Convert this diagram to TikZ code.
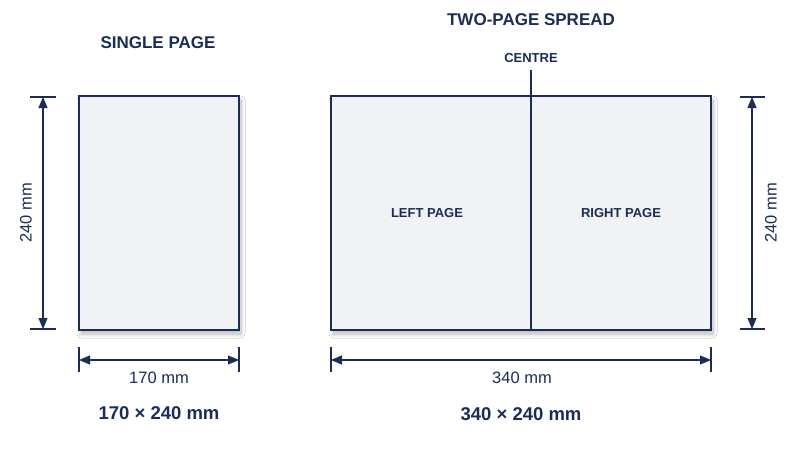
\documentclass[tikz,border=0pt]{standalone}
\usepackage{fontspec}
\setmainfont{Liberation Sans}
\usetikzlibrary{arrows.meta,shadows.blur}
\definecolor{navy}{HTML}{1B2D55}
\definecolor{pagefill}{HTML}{F1F2F6}
\begin{document}
\begin{tikzpicture}[x=1pt,y=-1pt,
  pagebox/.style={draw=navy,line width=1.2pt,fill=pagefill,
    blur shadow={shadow xshift=2pt,shadow yshift=-4pt,shadow blur radius=4pt,shadow blur steps=10,shadow opacity=28}},
  dimline/.style={draw=navy,line width=1.1pt,{Triangle[length=11pt,width=9pt]}-{Triangle[length=11pt,width=9pt]}},
  tickline/.style={draw=navy,line width=1.1pt},
  title/.style={text=navy,font=\bfseries\fontsize{17}{19}\selectfont},
  lbl/.style={text=navy,font=\bfseries\fontsize{13}{15}\selectfont},
  dimtxt/.style={text=navy,font=\fontsize{16.5}{18}\selectfont},
  total/.style={text=navy,font=\bfseries\fontsize{18.5}{20}\selectfont}]
\useasboundingbox[fill=white] (0,0) rectangle (800,450);

% single page
\node[title] (t1) at (158,43) {SINGLE PAGE};
\path[pagebox] (79,96) rectangle (239,330);

% left vertical dimension
\coordinate (lt1) at (30,97); \coordinate (lt2) at (56,97);
\coordinate (lb1) at (30,329); \coordinate (lb2) at (56,329);
\draw[tickline] (lt1) -- (lt2);
\draw[tickline] (lb1) -- (lb2);
\coordinate (la) at (43,97); \coordinate (lb) at (43,329);
\draw[dimline] (la) -- (lb);
\node[dimtxt,rotate=90] (lh) at (26,213) {240 mm};

% bottom single dimension
\coordinate (sb1a) at (79,347); \coordinate (sb1b) at (79,372);
\coordinate (sb2a) at (239,347); \coordinate (sb2b) at (239,372);
\draw[tickline] (sb1a) -- (sb1b);
\draw[tickline] (sb2a) -- (sb2b);
\coordinate (sda) at (79,360); \coordinate (sdb) at (239,360);
\draw[dimline] (sda) -- (sdb);
\node[dimtxt] (sw) at (159,378) {170 mm};
\node[total] (st) at (159,413) {170 × 240 mm};

% spread
\node[title] (t2) at (531,20) {TWO-PAGE SPREAD};
\node[lbl] (cen) at (531,58) {CENTRE};
\path[pagebox] (331,96) rectangle (711,330);
\coordinate (ctop) at (531,70);
\coordinate (cbot) at (531,330);
\draw[navy,line width=1.1pt] (ctop) -- (cbot);
\node[lbl] (lp) at (427,213) {LEFT PAGE};
\node[lbl] (rp) at (621,213) {RIGHT PAGE};

% bottom spread dimension
\coordinate (pb1a) at (331,347); \coordinate (pb1b) at (331,372);
\coordinate (pb2a) at (711,347); \coordinate (pb2b) at (711,372);
\draw[tickline] (pb1a) -- (pb1b);
\draw[tickline] (pb2a) -- (pb2b);
\coordinate (pda) at (331,360); \coordinate (pdb) at (711,360);
\draw[dimline] (pda) -- (pdb);
\node[dimtxt] (pw) at (522,378) {340 mm};
\node[total] (pt) at (521,414) {340 × 240 mm};

% right vertical dimension
\coordinate (rt1) at (740,97); \coordinate (rt2) at (765,97);
\coordinate (rb1) at (740,329); \coordinate (rb2) at (765,329);
\draw[tickline] (rt1) -- (rt2);
\draw[tickline] (rb1) -- (rb2);
\coordinate (ra) at (752,97); \coordinate (rb) at (752,329);
\draw[dimline] (ra) -- (rb);
\node[dimtxt,rotate=90] (rh) at (771,213) {240 mm};
\end{tikzpicture}
\end{document}
